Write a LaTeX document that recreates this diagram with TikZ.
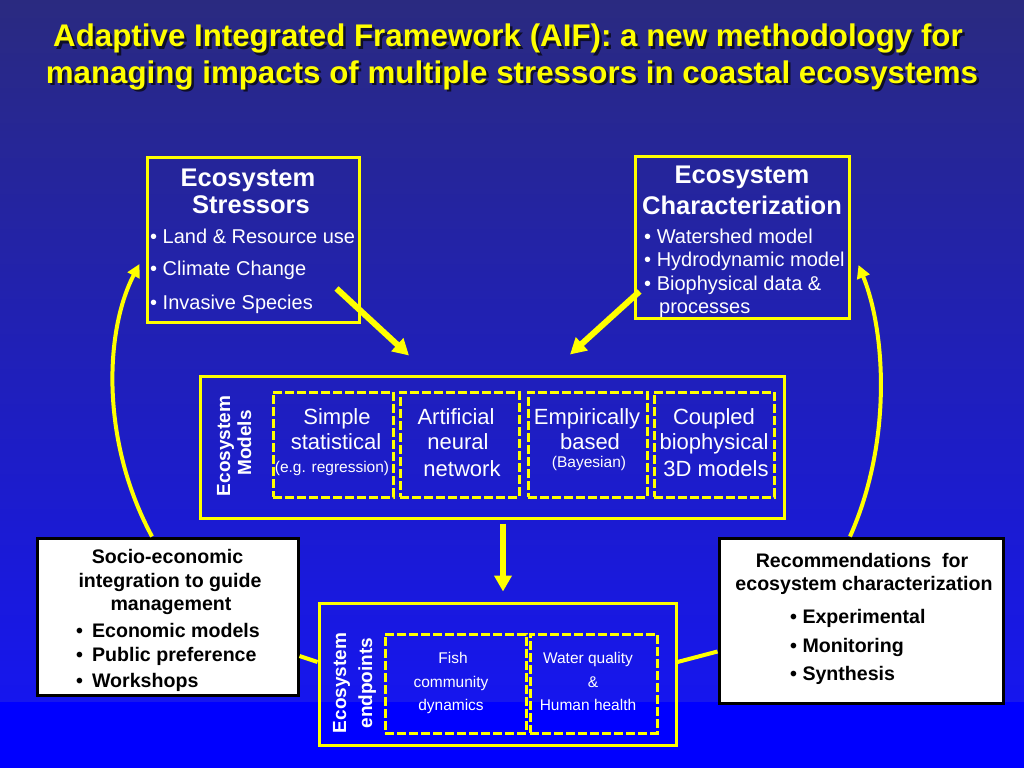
\documentclass[tikz,border=0pt]{standalone}
\usepackage{fontspec}
\setmainfont{Liberation Sans}
\usetikzlibrary{arrows.meta,calc}
\definecolor{bgtop}{RGB}{42,42,128}
\definecolor{bgmid}{RGB}{34,34,180}
\definecolor{bgbot}{RGB}{22,22,238}
\definecolor{bgstrip}{RGB}{0,0,255}
\definecolor{ylw}{RGB}{255,255,0}
\definecolor{shadowc}{RGB}{15,15,40}
\newcommand{\fsz}[1]{\fontsize{#1}{#1}\selectfont}
\newcommand{\shadowtext}[1]{\makebox[0pt][l]{\hspace{2.5pt}\raisebox{-2.5pt}{\textcolor{shadowc}{#1}}}\textcolor{ylw}{#1}}

\begin{document}
\begin{tikzpicture}[x=1pt,y=-1pt,
    ybox/.style={draw=ylw, line width=3pt, inner sep=0pt},
    ydash/.style={draw=ylw, line width=3pt, inner sep=0pt, dash pattern=on 9pt off 3pt},
    wbox/.style={draw=black, fill=white, line width=3pt, inner sep=0pt},
    ttl/.style={font=\fsz{31.3}\bfseries, anchor=base, inner sep=0pt},
    head/.style={text=white, font=\fsz{25.5}\bfseries, anchor=base, inner sep=0pt},
    item/.style={text=white, font=\fsz{20}, anchor=base west, inner sep=0pt},
    mtxt/.style={text=white, font=\fsz{22}, anchor=base, inner sep=0pt},
    stxt/.style={text=white, font=\fsz{15.5}, anchor=base, inner sep=0pt},
    vlab/.style={text=white, font=\fsz{19}\bfseries, rotate=90, anchor=base, inner sep=0pt},
    btxt/.style={text=black, font=\fsz{19.6}\bfseries, anchor=base, inner sep=0pt},
    bitem/.style={text=black, font=\fsz{19.6}\bfseries, anchor=base west, inner sep=0pt},
    yarrow/.style={draw=ylw, line width=6pt, -{Triangle[length=16pt,width=17pt]}},
    carrow/.style={draw=ylw, line width=4pt, -{Triangle[length=13pt,width=13pt]}},
    yline/.style={draw=ylw, line width=4pt}]
    \useasboundingbox (0,0) rectangle (1024,768);
    \shade[top color=bgtop, middle color=bgmid, bottom color=bgbot] (0,0) rectangle (1024,702);
    \fill[bgstrip] (0,702) rectangle (1024,768);

    \node[ttl] (title1) at (508,47) {\shadowtext{Adaptive Integrated Framework (AIF): a new methodology for}};
    \node[ttl] (title2) at (512,83) {\shadowtext{managing impacts of multiple stressors in coastal ecosystems}};

    \node[ybox, minimum width=212pt, minimum height=165pt] (stress) at (253,239.5) {};
    \node[head] (stressh1) at (248,186) {Ecosystem};
    \node[head] (stressh2) at (251,213) {Stressors};
    \node[item] (stress1) at (150,243) {• Land \& Resource use};
    \node[item] (stress2) at (150,275) {• Climate Change};
    \node[item] (stress3) at (150,309) {• Invasive Species};

    \node[ybox, minimum width=214pt, minimum height=162pt] (char) at (742,237) {};
    \node[head] (charh1) at (742,183) {Ecosystem};
    \node[head] (charh2) at (742,214) {Characterization};
    \node[item] (char1) at (644,243) {• Watershed model};
    \node[item] (char2) at (644,266) {• Hydrodynamic model};
    \node[item] (char3) at (644,290) {• Biophysical data \&};
    \node[item] (char4) at (659,313) {processes};

    \node[ybox, minimum width=584pt, minimum height=142pt] (models) at (492,447) {};
    \node[vlab] (modelsv1) at (230,446) {Ecosystem};
    \node[vlab] (modelsv2) at (251,443) {Models};
    \node[ydash, minimum width=120pt, minimum height=105pt] (m1) at (333,444.5) {};
    \node[ydash, minimum width=119pt, minimum height=105pt] (m2) at (459.5,444.5) {};
    \node[ydash, minimum width=119pt, minimum height=105pt] (m3) at (587.5,444.5) {};
    \node[ydash, minimum width=120pt, minimum height=105pt] (m4) at (714,444.5) {};
    \node[mtxt] (m1a) at (337,424) {Simple};
    \node[mtxt] (m1b) at (336,449) {statistical};
    \node[stxt] (m1c) at (332,472) {(e.g. regression)};
    \node[mtxt] (m2a) at (456,424) {Artificial};
    \node[mtxt] (m2b) at (458,449) {neural};
    \node[mtxt] (m2c) at (462,476) {network};
    \node[mtxt] (m3a) at (587,424) {Empirically};
    \node[mtxt] (m3b) at (590,449) {based};
    \node[stxt] (m3c) at (589,467) {(Bayesian)};
    \node[mtxt] (m4a) at (714,424) {Coupled};
    \node[mtxt] (m4b) at (714,449) {biophysical};
    \node[mtxt] (m4c) at (716,476) {3D models};

    \node[ybox, minimum width=357pt, minimum height=142pt] (endpts) at (497.5,674) {};
    \node[vlab] (endptsv1) at (346,683) {Ecosystem};
    \node[vlab] (endptsv2) at (372,683) {endpoints};
    \node[ydash, minimum width=141pt, minimum height=99pt] (e1) at (455.5,683.5) {};
    \node[ydash, minimum width=127pt, minimum height=99pt] (e2) at (593.5,683.5) {};
    \node[stxt] (e1a) at (453,663) {Fish};
    \node[stxt] (e1b) at (451,687) {community};
    \node[stxt] (e1c) at (451,710) {dynamics};
    \node[stxt] (e2a) at (588,663) {Water quality};
    \node[stxt] (e2b) at (593,687) {\&};
    \node[stxt] (e2c) at (588,710) {Human health};

    \node[wbox, minimum width=261pt, minimum height=157pt] (socio) at (167.5,616.5) {};
    \node[btxt] (socio1) at (167.5,563) {Socio-economic};
    \node[btxt] (socio2) at (170,587) {integration to guide};
    \node[btxt] (socio3) at (171,610) {management};
    \node[bitem] (socio4) at (76,637) {•\hspace{9pt}Economic models};
    \node[bitem] (socio5) at (76,661) {•\hspace{9pt}Public preference};
    \node[bitem] (socio6) at (76,687) {•\hspace{9pt}Workshops};

    \node[wbox, minimum width=284pt, minimum height=165pt] (rec) at (861,620.5) {};
    \node[btxt] (rec1) at (862,567) {Recommendations\ \ for};
    \node[btxt] (rec2) at (864,590) {ecosystem characterization};
    \node[bitem] (rec3) at (790,623) {• Experimental};
    \node[bitem] (rec4) at (790,652) {• Monitoring};
    \node[bitem] (rec5) at (790,680) {• Synthesis};

    \draw[yarrow] ($(stress.south east)+(-24,-35)$) -- ($(models.north)+(-83,-19)$);
    \draw[yarrow] ($(char.south west)+(6,-28)$) -- ($(models.north)+(78,-20)$);
    \draw[yarrow] ($(models.south)+(11,4)$) -- ($(endpts.north)+(5.5,-10)$);
    \draw[carrow] ($(socio.north)+(-15.5,0)$) .. controls (100,440) and (105,330) .. ($(stress.west)+(-6,24.5)$);
    \draw[carrow] ($(rec.north)+(-11,0)$) .. controls (893,440) and (885,330) .. ($(char.east)+(8,28)$);
    \draw[yline] ($(endpts.west)+(0,-12)$) -- ($(socio.east)+(0,39.5)$);
    \draw[yline] ($(endpts.east)+(0,-12)$) -- ($(rec.west)+(0,31)$);
\end{tikzpicture}
\end{document}
